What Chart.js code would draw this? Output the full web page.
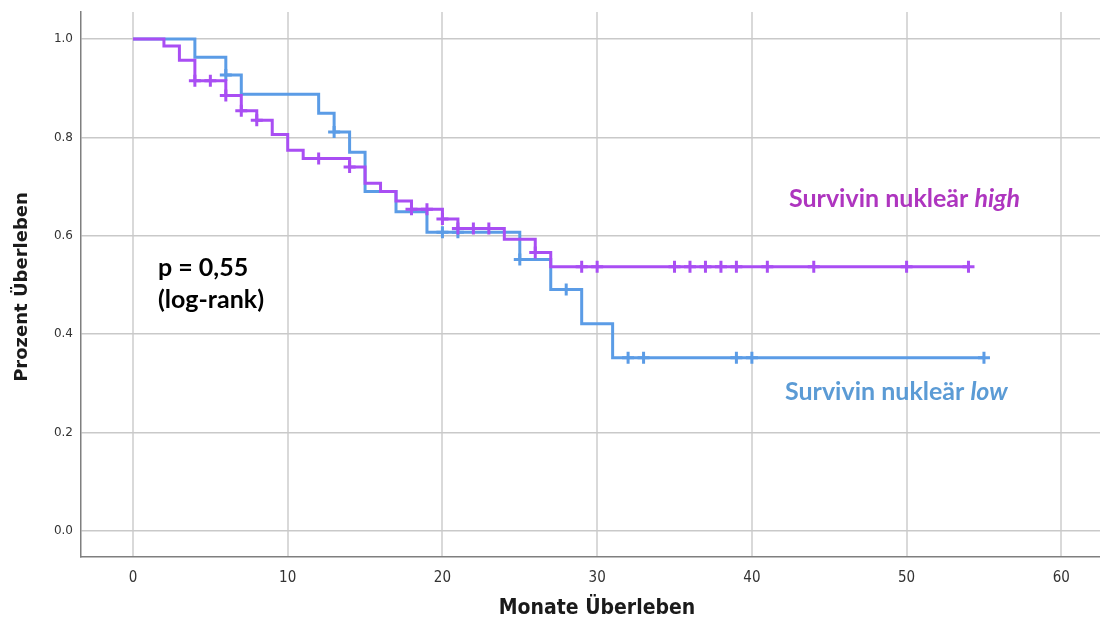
<!DOCTYPE html>
<html>
<head>
<meta charset="utf-8">
<title>Kaplan-Meier Survivin nukleär</title>
<script src="https://cdn.jsdelivr.net/npm/chart.js@4.4.1/dist/chart.umd.min.js"></script>
<style>
  html, body { margin: 0; padding: 0; background: #fff; overflow: hidden; }
  /* etwas breiter als das Fenster, damit die Plotfläche rechts bis an den Rand läuft */
  #wrap { position: relative; width: 1109px; height: 621px; }
</style>
</head>
<body>
<div id="wrap"><canvas id="km"></canvas></div>
<script>
// Survivin nukleär high: Ereigniszeitpunkte (Monate) und Überleben danach
const highEventMonths = [2, 3, 4, 6, 7, 8, 9, 10, 11, 14, 15, 16, 17, 18, 20, 21, 24, 26, 27];
const highSurvival    = [0.986, 0.957, 0.915, 0.885, 0.854, 0.835, 0.806, 0.774, 0.757, 0.740,
                         0.707, 0.690, 0.671, 0.654, 0.634, 0.615, 0.593, 0.566, 0.537];
const highCensorMonths = [4, 5, 6, 7, 8, 12, 14, 18, 19, 20, 21, 22, 23, 26, 29, 30,
                          35, 36, 37, 38, 39, 41, 44, 50, 54];

// Survivin nukleär low
const lowEventMonths = [4, 6, 7, 12, 13, 14, 15, 17, 19, 25, 27, 29, 31];
const lowSurvival    = [0.963, 0.927, 0.888, 0.849, 0.811, 0.770, 0.690, 0.649, 0.607,
                        0.552, 0.491, 0.421, 0.352];
const lowCensorMonths = [6, 13, 20, 21, 25, 28, 32, 33, 39, 40, 55];

// Achsen
const xTickValues = [0, 10, 20, 30, 40, 50, 60];
const yTickValues = [0, 0.2, 0.4, 0.6, 0.8, 1.0];

const COL_HIGH = '#a94ef3';
const COL_LOW = '#5b9ce6';
const TXT_HIGH = '#ae35bf';
const TXT_LOW = '#5b9bd5';

// Treppenfunktion: Start bei (0, 1), letzter Punkt = letzte Beobachtung
function stepPoints(months, surv, censors) {
  const pts = [{ x: 0, y: 1 }];
  months.forEach((m, i) => pts.push({ x: m, y: surv[i] }));
  const last = Math.max(months[months.length - 1], censors[censors.length - 1]);
  pts.push({ x: last, y: surv[surv.length - 1] });
  return pts;
}

function survivalAt(months, surv, t) {
  let s = 1;
  months.forEach((m, i) => { if (m <= t) s = surv[i]; });
  return s;
}

function censorPoints(months, surv, censors) {
  return censors.map(t => ({ x: t, y: survivalAt(months, surv, t) }));
}

// Beschriftungen direkt auf das Canvas
const textPlugin = {
  id: 'kmText',
  afterDraw(chart) {
    const ctx = chart.ctx;
    ctx.save();
    ctx.textBaseline = 'middle';

    // Achsentitel
    ctx.fillStyle = '#1a1a1a';
    ctx.font = 'bold 18px "DejaVu Sans", sans-serif';
    ctx.textAlign = 'center';
    ctx.save();
    ctx.translate(22, 287);
    ctx.rotate(-Math.PI / 2);
    ctx.fillText('Prozent Überleben', 0, 0);
    ctx.restore();

    ctx.font = 'bold 21px "DejaVu Sans Condensed", "Liberation Sans Narrow", sans-serif';
    ctx.fillText('Monate Überleben', 597, 609);

    // p-Wert
    ctx.textAlign = 'left';
    ctx.fillStyle = '#000';
    ctx.font = 'bold 25px Lato, "Open Sans", sans-serif';
    ctx.fillText('p = 0,55', 158, 268);
    ctx.fillText('(log-rank)', 158, 300);

    // Gruppenlabels
    const runs = (x, y, color, parts) => {
      ctx.fillStyle = color;
      parts.forEach(p => {
        ctx.font = (p.italic ? 'italic ' : '') + 'bold 25px Lato, "Open Sans", sans-serif';
        ctx.fillText(p.text, x, y);
        x += ctx.measureText(p.text).width;
      });
    };
    runs(789, 199, TXT_HIGH, [{ text: 'Survivin nukleär ' }, { text: 'high', italic: true }]);
    runs(785, 392, TXT_LOW, [{ text: 'Survivin nukleär ' }, { text: 'low', italic: true }]);

    ctx.restore();
  }
};

const ctx = document.getElementById('km').getContext('2d');
const chart = new Chart(ctx, {
  type: 'line',
  data: {
    datasets: [
      {
        label: 'high zensiert',
        data: censorPoints(highEventMonths, highSurvival, highCensorMonths),
        showLine: false,
        pointStyle: 'cross',
        pointRadius: 6,
        pointBorderWidth: 3,
        borderColor: COL_HIGH,
        backgroundColor: COL_HIGH
      },
      {
        label: 'Survivin nukleär high',
        data: stepPoints(highEventMonths, highSurvival, highCensorMonths),
        stepped: 'before',
        borderColor: COL_HIGH,
        borderWidth: 3,
        pointRadius: 0
      },
      {
        label: 'low zensiert',
        data: censorPoints(lowEventMonths, lowSurvival, lowCensorMonths),
        showLine: false,
        pointStyle: 'cross',
        pointRadius: 6,
        pointBorderWidth: 3,
        borderColor: COL_LOW,
        backgroundColor: COL_LOW
      },
      {
        label: 'Survivin nukleär low',
        data: stepPoints(lowEventMonths, lowSurvival, lowCensorMonths),
        stepped: 'before',
        borderColor: COL_LOW,
        borderWidth: 3,
        pointRadius: 0
      }
    ]
  },
  options: {
    responsive: true,
    maintainAspectRatio: false,
    animation: false,
    layout: { padding: { top: 12, right: 0, left: 0, bottom: 0 } },
    plugins: {
      legend: { display: false },
      tooltip: { enabled: false }
    },
    scales: {
      x: {
        type: 'linear',
        min: -3.36,
        max: 62.5,
        afterBuildTicks: s => { s.ticks = xTickValues.map(v => ({ value: v })); },
        afterFit: s => { s.height = 64; s.paddingLeft = 0; s.paddingRight = 0; },
        grid: { color: '#d9d9d9', lineWidth: 2, drawTicks: false },
        border: { display: true, color: '#7f7f7f', width: 1.5 },
        ticks: {
          padding: 12,
          color: '#333',
          font: { family: '"DejaVu Sans Condensed", "Liberation Sans Narrow", sans-serif', size: 15 },
          callback: v => String(v)
        }
      },
      y: {
        min: -0.053,
        max: 1.055,
        afterBuildTicks: s => { s.ticks = yTickValues.map(v => ({ value: v })); },
        afterFit: s => { s.width = 81; s.paddingTop = 0; s.paddingBottom = 0; },
        grid: { color: '#c9c9c9', lineWidth: 1.5, drawTicks: false },
        border: { display: true, color: '#7f7f7f', width: 1.5 },
        ticks: {
          padding: 8,
          color: '#333',
          font: { family: '"DejaVu Sans", sans-serif', size: 12 },
          callback: v => Number(v).toFixed(1)
        }
      }
    }
  },
  plugins: [textPlugin]
});
</script>
</body>
</html>
